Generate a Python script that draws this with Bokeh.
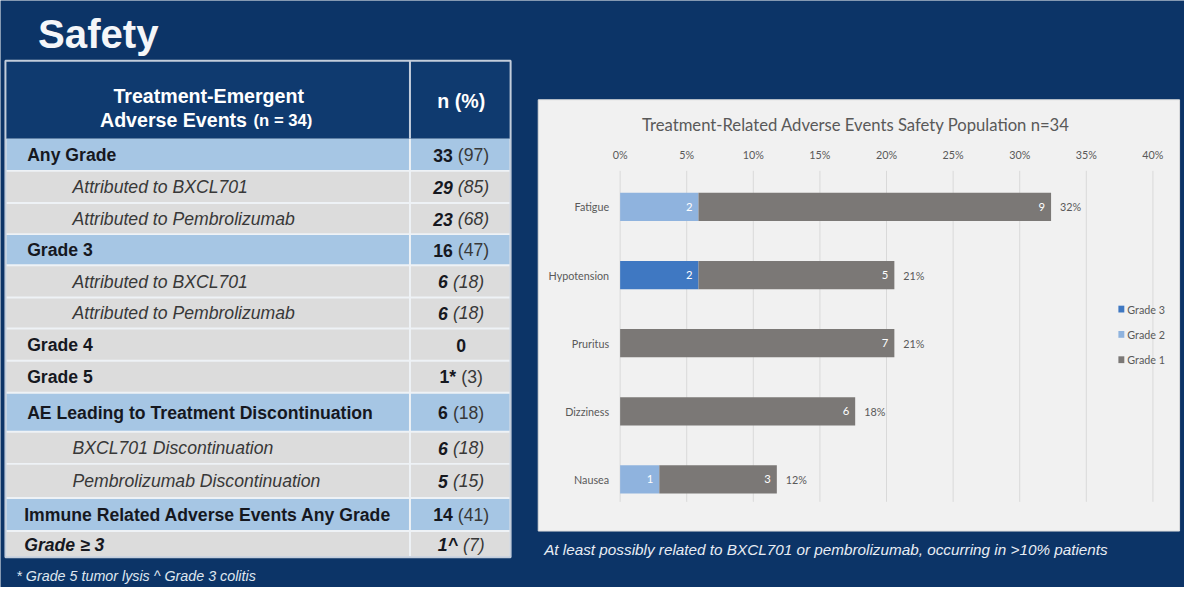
from bokeh.plotting import figure
from bokeh.models import Range1d, ColumnDataSource
from bokeh.core.properties import value
from bokeh.embed import file_html
from bokeh.resources import INLINE

# ---------------- data ----------------
slide_title = "Safety"
header_left_1 = "Treatment-Emergent"
header_left_2 = "Adverse Events"
header_left_n = "(n = 34)"
header_right = "n (%)"

row_labels = [
    "Any Grade",
    "Attributed to BXCL701",
    "Attributed to Pembrolizumab",
    "Grade 3",
    "Attributed to BXCL701",
    "Attributed to Pembrolizumab",
    "Grade 4",
    "Grade 5",
    "AE Leading to Treatment Discontinuation",
    "BXCL701 Discontinuation",
    "Pembrolizumab Discontinuation",
    "Immune Related Adverse Events Any Grade",
    "Grade \u2265 3",
]
row_n = ["33", "29", "23", "16", "6", "6", "0", "1*", "6", "6", "5", "14", "1^"]
row_pct = ["(97)", "(85)", "(68)", "(47)", "(18)", "(18)", "", "(3)", "(18)", "(18)", "(15)", "(41)", "(7)"]
row_kind = ["group", "sub", "sub", "group", "sub", "sub", "plain", "plain",
            "group", "sub", "sub", "group2", "last"]
footnote = "* Grade 5 tumor lysis ^ Grade 3 colitis"

chart_title = "Treatment-Related Adverse Events Safety Population n=34"
categories = ["Fatigue", "Hypotension", "Pruritus", "Dizziness", "Nausea"]
grade3 = [0, 2, 0, 0, 0]
grade2 = [2, 0, 0, 0, 1]
grade1 = [9, 5, 7, 6, 3]
n_patients = 34
tick_values = [0.00, 0.05, 0.10, 0.15, 0.20, 0.25, 0.30, 0.35, 0.40]
tick_labels = ["0%", "5%", "10%", "15%", "20%", "25%", "30%", "35%", "40%"]
legend_labels = ["Grade 3", "Grade 2", "Grade 1"]
caption = "At least possibly related to BXCL701 or pembrolizumab, occurring in >10% patients"

# ---------------- styles / layout ----------------
BG = "#0c3467"
HEAD_BG = "#0f3a6f"
ROW_BLUE = "#a6c6e4"
ROW_GRAY = "#dcdcdc"
SEP = "#eef2f6"
BORDER = "#c3cddb"
DARK = "#16181f"
MID = "#383838"
C_G3, C_G2, C_G1 = "#3f78c2", "#8fb3de", "#7b7876"
CHART_TXT = "#595959"
FONT = value("Liberation Sans")
CFONT = value("Lato")
K = 0.98  # font scale to the canvas


def fs(px):
    return f"{px * K:.2f}px"


W, H = 1184, 587
SW, SH = 1200, 603  # slide coordinate system

p = figure(width=W, height=H, x_range=Range1d(0, SW), y_range=Range1d(SH, 0),
           output_backend="svg", toolbar_location=None, min_border=0,
           x_axis_location=None, y_axis_location=None,
           background_fill_color=BG, border_fill_color=BG, outline_line_color=None)
p.grid.visible = False

# Arial / Liberation Sans advance widths (em)
CW = {"0": .556, "1": .556, "2": .556, "3": .556, "4": .556, "5": .556, "6": .556,
      "7": .556, "8": .556, "9": .556, "(": .333, ")": .333, " ": .278, "*": .389}


def tw(s, size, bold=False):
    w = 0
    for ch in s:
        if ch == "^":
            w += .584 if bold else .469
        else:
            w += CW.get(ch, .556)
    return w * size


# title
p.text(x=[38], y=[35], text=[slide_title], text_font=FONT, text_font_style="bold",
       text_font_size=fs(41), text_color="#f4f6f9", text_baseline="alphabetic", text_align="left")

# ---------------- table ----------------
TL, TR, COL = 5, 517, 415
HEAD_TOP, BODY_TOP = 62, 142
edges = [142, 175, 208, 240, 272, 305, 337, 370, 403, 443, 476, 511, 545, 572]

p.quad(left=[TL], right=[TR], top=[HEAD_TOP], bottom=[edges[-1]], fill_color=SEP, line_color=None)
p.quad(left=[TL], right=[TR], top=[HEAD_TOP], bottom=[BODY_TOP], fill_color=HEAD_BG, line_color=None)

cl, cr, ct, cb, cc = [], [], [], [], []
for i, k in enumerate(row_kind):
    col = ROW_BLUE if k.startswith("group") else ROW_GRAY
    for (a, b) in [(TL + 1, COL - 1), (COL + 1, TR - 1)]:
        cl.append(a); cr.append(b)
        ct.append(edges[i] + (1 if i > 0 else 0)); cb.append(edges[i + 1] - 1)
        cc.append(col)
p.quad(left=cl, right=cr, top=ct, bottom=cb, fill_color=cc, line_color=None)
p.segment(x0=[COL], y0=[HEAD_TOP], x1=[COL], y1=[BODY_TOP], line_color=BORDER, line_width=2)
p.quad(left=[TL], right=[TR], top=[HEAD_TOP], bottom=[edges[-1]], fill_color=None,
       line_color=BORDER, line_width=2)

# header text
HC = (TL + COL) / 2 + 1
p.text(x=[HC], y=[98], text=[header_left_1], text_font=FONT, text_font_style="bold",
       text_font_size=fs(20), text_color="white", text_align="center", text_baseline="alphabetic")
w1 = tw(" ", 20) + 7.503 * 20
w2 = 3.807 * 17
left0 = HC - (w1 + w2) / 2
p.text(x=[left0], y=[123], text=[header_left_2], text_font=FONT, text_font_style="bold",
       text_font_size=fs(20), text_color="white", text_align="left", text_baseline="alphabetic")
p.text(x=[left0 + w1], y=[123], text=[header_left_n], text_font=FONT, text_font_style="bold",
       text_font_size=fs(17), text_color="white", text_align="left", text_baseline="alphabetic")
VC = (COL + TR) / 2 + 1
p.text(x=[VC], y=[103], text=[header_right], text_font=FONT, text_font_style="bold",
       text_font_size=fs(20), text_color="white", text_align="center", text_baseline="middle")

# body text
styles = {
    "group": (27, "bold", DARK, "bold", "normal"),
    "group2": (24, "bold", DARK, "bold", "normal"),
    "plain": (27, "bold", DARK, "bold", "normal"),
    "sub": (73, "italic", MID, "bold italic", "italic"),
    "last": (24, "bold italic", DARK, "bold italic", "italic"),
}
FS = 18
for i, (lab, k) in enumerate(zip(row_labels, row_kind)):
    x, fst, colr, nst, pst = styles[k]
    ymid = (edges[i] + edges[i + 1]) / 2 + 0.5
    p.text(x=[x], y=[ymid], text=[lab], text_font=FONT, text_font_style=fst,
           text_font_size=fs(FS), text_color=colr, text_align="left", text_baseline="middle")
    nw = tw(row_n[i], FS, True)
    pw = tw(" " + row_pct[i], FS) if row_pct[i] else 0
    start = VC - (nw + pw) / 2
    p.text(x=[start], y=[ymid], text=[row_n[i]], text_font=FONT, text_font_style=nst,
           text_font_size=fs(FS), text_color=DARK, text_align="left", text_baseline="middle")
    if row_pct[i]:
        p.text(x=[start + nw + tw(" ", FS)], y=[ymid], text=[row_pct[i]], text_font=FONT,
               text_font_style=pst, text_font_size=fs(FS), text_color=MID,
               text_align="left", text_baseline="middle")

p.text(x=[16], y=[591], text=[footnote], text_font=FONT, text_font_style="italic",
       text_font_size=fs(14.6), text_color="#dfe6ef", text_align="left", text_baseline="middle")

# ---------------- chart ----------------
PANEL_L, PANEL_R, PANEL_T, PANEL_B = 545, 1195, 102, 545
PX_ZERO, PX_PER_UNIT = 628, 1350.0
CAT_Y0, CAT_STEP, BAR_PX = 212, 70.0, 29

p.extra_x_ranges = {"pct": Range1d((0 - PX_ZERO) / PX_PER_UNIT, (SW - PX_ZERO) / PX_PER_UNIT)}
p.extra_y_ranges = {"cat": Range1d((SH - CAT_Y0) / CAT_STEP, (0 - CAT_Y0) / CAT_STEP)}

p.quad(left=[PANEL_L], right=[PANEL_R], top=[PANEL_T], bottom=[PANEL_B],
       fill_color="#f1f1f1", line_color="#dcdcdc", line_width=1)
p.text(x=[(PANEL_L + PANEL_R) / 2 - 3], y=[128], text=[chart_title], text_font=CFONT,
       text_font_size=fs(17), text_color=CHART_TXT, text_align="center", text_baseline="middle")

# gridlines + tick labels
p.segment(x0=tick_values, y0=[175] * len(tick_values), x1=tick_values, y1=[515] * len(tick_values),
          x_range_name="pct", line_color="#d9d9d9", line_width=1)
p.text(x=tick_values, y=[158] * len(tick_values), text=tick_labels, x_range_name="pct",
       text_font=CFONT, text_font_size=fs(11), text_color=CHART_TXT,
       text_align="center", text_baseline="middle")

# stacked bars
ys = list(range(len(categories)))
cum = [0] * len(categories)
for vals, colr in [(grade3, C_G3), (grade2, C_G2), (grade1, C_G1)]:
    d = {"y": [], "left": [], "right": [], "lab": []}
    for i, v in enumerate(vals):
        if v > 0:
            d["y"].append(ys[i])
            d["left"].append(cum[i] / n_patients)
            d["right"].append((cum[i] + v) / n_patients)
            d["lab"].append(str(v))
        cum[i] += v
    src = ColumnDataSource(d)
    p.hbar(y="y", left="left", right="right", height=BAR_PX / CAT_STEP, source=src,
           x_range_name="pct", y_range_name="cat", fill_color=colr, line_color=None)
    p.text(x="right", y="y", text="lab", source=src, x_range_name="pct", y_range_name="cat",
           x_offset=-6, text_align="right", text_baseline="middle", text_font=CFONT,
           text_font_size=fs(11.5), text_color="white")

totals = [a + b + c for a, b, c in zip(grade3, grade2, grade1)]
p.text(x=[t / n_patients for t in totals], y=ys,
       text=[f"{round(100 * t / n_patients)}%" for t in totals],
       x_range_name="pct", y_range_name="cat", x_offset=9, text_align="left",
       text_baseline="middle", text_font=CFONT, text_font_size=fs(11), text_color=CHART_TXT)

# category labels
p.text(x=[0] * len(categories), y=ys, text=categories, x_range_name="pct", y_range_name="cat",
       x_offset=-11, text_align="right", text_baseline="middle", text_font=CFONT,
       text_font_size=fs(11), text_color=CHART_TXT)

# legend
LEG_X, LEG_Y, LEG_STEP = 1136, 317, 26
leg_y = [LEG_Y + LEG_STEP * i for i in range(len(legend_labels))]
p.rect(x=[LEG_X] * 3, y=leg_y, width=6, height=7, fill_color=[C_G3, C_G2, C_G1], line_color=None)
p.text(x=[LEG_X + 6] * 3, y=leg_y, text=legend_labels, text_font=CFONT, text_font_size=fs(11),
       text_color=CHART_TXT, text_align="left", text_baseline="middle")

# caption
p.text(x=[551], y=[564], text=[caption], text_font=FONT, text_font_style="italic",
       text_font_size=fs(15.6), text_color="#e8edf4", text_align="left", text_baseline="middle")

open("out.html", "w").write(file_html(p, INLINE))
